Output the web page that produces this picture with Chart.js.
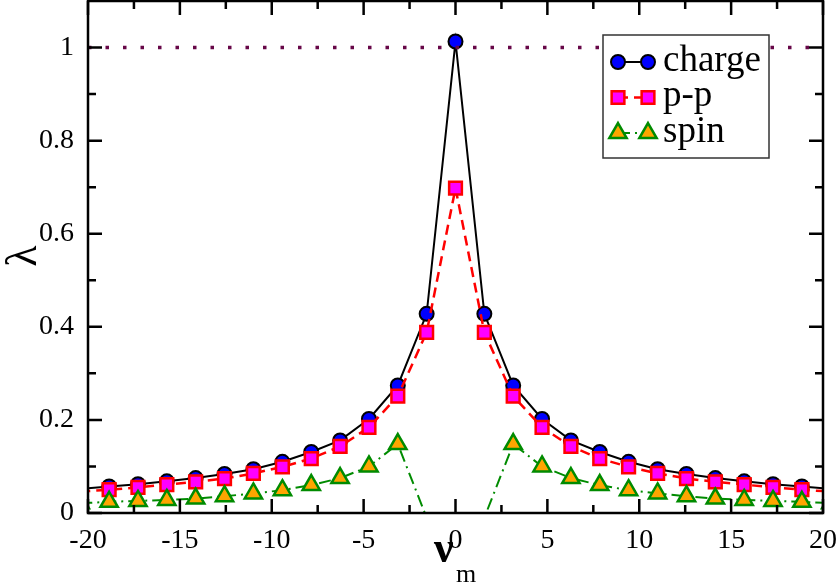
<!DOCTYPE html>
<html>
<head>
<meta charset="utf-8">
<script src="https://cdn.jsdelivr.net/npm/chart.js@4/dist/chart.umd.min.js"></script>
<style>
  html, body { margin: 0; padding: 0; background: #fff; }
</style>
</head>
<body>
<canvas id="myChart" width="839" height="588"></canvas>
<script>
// Matsubara frequencies nu_m (points every ~pi/2)
const nu = [-20.42, -18.85, -17.28, -15.71, -14.14, -12.57, -11.00, -9.42, -7.85, -6.28, -4.71, -3.14, -1.57,
            0,
            1.57, 3.14, 4.71, 6.28, 7.85, 9.42, 11.00, 12.57, 14.14, 15.71, 17.28, 18.85, 20.42];

// eigenvalues lambda for each channel
const charge = [0.052, 0.057, 0.062, 0.068, 0.075, 0.084, 0.094, 0.110, 0.131, 0.156, 0.202, 0.274, 0.428,
                1.013,
                0.428, 0.274, 0.202, 0.156, 0.131, 0.110, 0.094, 0.084, 0.075, 0.068, 0.062, 0.057, 0.052];
const pp = [0.046, 0.050, 0.055, 0.061, 0.067, 0.074, 0.085, 0.099, 0.117, 0.143, 0.184, 0.251, 0.388,
            0.698,
            0.388, 0.251, 0.184, 0.143, 0.117, 0.099, 0.085, 0.074, 0.067, 0.061, 0.055, 0.050, 0.046];
const spin = [0.021, 0.024, 0.026, 0.028, 0.031, 0.036, 0.042, 0.049, 0.060, 0.075, 0.100, 0.148, -0.010,
              -0.080,
              -0.010, 0.148, 0.100, 0.075, 0.060, 0.049, 0.042, 0.036, 0.031, 0.028, 0.026, 0.024, 0.021];

// the dotted reference line at lambda = 1
const refX = [-20, 20];
const refY = [1, 1];

const seriesNames = ['charge', 'p-p', 'spin'];
const xTicks = [-20, -15, -10, -5, 0, 5, 10, 15, 20];
const xMinor = [-17.5, -12.5, -7.5, -2.5, 2.5, 7.5, 12.5, 17.5];
const yTicks = [0, 0.2, 0.4, 0.6, 0.8, 1];
const yMinor = [0.1, 0.3, 0.5, 0.7, 0.9];

const serif = '"Liberation Serif", "Times New Roman", Times, serif';

function pairs(xs, ys) {
  return xs.map((x, i) => ({ x: x, y: ys[i] }));
}

// like xmgrace: symbols whose point lies below the axis are not drawn
function radiusFor(r) {
  return ctx => (ctx.raw && ctx.raw.y < 0) ? 0 : r;
}

// no extra room around the axes, the plot box fills the canvas
function noPadding(s) {
  s.paddingTop = 0; s.paddingBottom = 0; s.paddingLeft = 0; s.paddingRight = 0;
}

// frame with inward ticks on all four sides
const frame = {
  id: 'frame',
  afterDatasetsDraw(chart) {
    const { ctx, chartArea: a, scales } = chart;
    ctx.save();
    ctx.strokeStyle = '#000';
    ctx.lineWidth = 2.5;
    ctx.beginPath();
    const tick = (vals, len) => {
      vals.forEach(v => {
        const px = scales.x.getPixelForValue(v);
        ctx.moveTo(px, a.bottom); ctx.lineTo(px, a.bottom - len);
        ctx.moveTo(px, a.top); ctx.lineTo(px, a.top + len);
      });
    };
    const ytick = (vals, len) => {
      vals.forEach(v => {
        const py = scales.y.getPixelForValue(v);
        ctx.moveTo(a.left, py); ctx.lineTo(a.left + len, py);
        ctx.moveTo(a.right, py); ctx.lineTo(a.right - len, py);
      });
    };
    tick(xTicks, 14); tick(xMinor, 8);
    ytick(yTicks, 14); ytick(yMinor, 8);
    ctx.stroke();
    ctx.strokeRect(a.left, a.top, a.right - a.left, a.bottom - a.top);
    ctx.restore();
  }
};

// axis titles: lambda and nu with subscript m
const titles = {
  id: 'titles',
  afterDraw(chart) {
    const ctx = chart.ctx;
    ctx.save();
    ctx.fillStyle = '#000';
    ctx.translate(24, 256);
    ctx.rotate(-Math.PI / 2);
    ctx.textAlign = 'center';
    ctx.textBaseline = 'middle';
    ctx.font = '44px ' + serif;
    ctx.fillText('λ', 0, 0);
    ctx.restore();

    ctx.save();
    ctx.fillStyle = '#000';
    ctx.textAlign = 'left';
    ctx.textBaseline = 'alphabetic';
    ctx.font = 'bold 44px ' + serif;
    ctx.fillText('ν', 434, 562);
    ctx.font = '26px ' + serif;
    ctx.fillText('m', 456, 582);
    ctx.restore();
  }
};

// legend box inside the plot, symbol - line - symbol like xmgrace
const legendBox = {
  id: 'legendBox',
  afterDraw(chart) {
    const ctx = chart.ctx;
    ctx.save();
    ctx.fillStyle = '#fff';
    ctx.fillRect(603, 35, 166, 123);
    ctx.lineWidth = 1.5;
    ctx.strokeStyle = '#333';
    ctx.strokeRect(603, 35, 166, 123);
    seriesNames.forEach((name, i) => {
      const ds = chart.data.datasets[i];
      const y = 62 + i * 35.5;
      ctx.strokeStyle = ds.borderColor;
      ctx.lineWidth = ds.borderWidth;
      ctx.setLineDash(ds.borderDash || []);
      ctx.beginPath();
      ctx.moveTo(618, y);
      ctx.lineTo(648, y);
      ctx.stroke();
      ctx.setLineDash([]);
      [618, 648].forEach(x => {
        ctx.fillStyle = ds.pointBackgroundColor;
        ctx.strokeStyle = ds.pointBorderColor;
        ctx.lineWidth = ds.pointBorderWidth;
        Chart.helpers.drawPoint(ctx, {
          pointStyle: ds.pointStyle, radius: ds.legendRadius,
          borderWidth: ds.pointBorderWidth, rotation: 0
        }, x, y);
      });
      ctx.fillStyle = '#000';
      ctx.font = '37px ' + serif;
      ctx.textAlign = 'left';
      ctx.textBaseline = 'alphabetic';
      ctx.fillText(name, 663, y + 8.5);
    });
    ctx.restore();
  }
};

new Chart(document.getElementById('myChart'), {
  type: 'line',
  data: {
    datasets: [
      {
        label: seriesNames[0],
        data: pairs(nu, charge),
        borderColor: '#000000',
        borderWidth: 2,
        pointStyle: 'circle',
        pointRadius: radiusFor(7),
        legendRadius: 7,
        pointBackgroundColor: '#0000ff',
        pointBorderColor: '#000000',
        pointBorderWidth: 2,
        order: 3
      },
      {
        label: seriesNames[1],
        data: pairs(nu, pp),
        borderColor: '#ff0000',
        borderWidth: 2.5,
        borderDash: [10, 6],
        pointStyle: 'rect',
        pointRadius: radiusFor(9),
        legendRadius: 9,
        pointBackgroundColor: '#ff00ff',
        pointBorderColor: '#ff0000',
        pointBorderWidth: 2.5,
        order: 2
      },
      {
        label: seriesNames[2],
        data: pairs(nu, spin),
        borderColor: '#008b00',
        borderWidth: 2,
        borderDash: [12, 5, 2, 5],
        pointStyle: 'triangle',
        pointRadius: radiusFor(10),
        legendRadius: 10,
        pointBackgroundColor: '#ffa500',
        pointBorderColor: '#008b00',
        pointBorderWidth: 2.5,
        order: 1
      },
      {
        label: 'ref',
        data: pairs(refX, refY),
        borderColor: '#670748',
        borderWidth: 3.5,
        borderDash: [3.5, 14],
        borderCapStyle: 'butt',
        pointRadius: 0,
        order: 0
      }
    ]
  },
  options: {
    responsive: false,
    animation: false,
    layout: { autoPadding: false, padding: { top: 1, right: 16, left: 0, bottom: 0 } },
    plugins: {
      legend: { display: false },
      tooltip: { enabled: false }
    },
    elements: { line: { tension: 0, fill: false } },
    scales: {
      x: {
        type: 'linear',
        min: -20,
        max: 20,
        afterBuildTicks: s => { s.ticks = xTicks.map(v => ({ value: v })); },
        afterFit: s => { s.height = 75; noPadding(s); },
        grid: { display: false },
        border: { display: false },
        ticks: { font: { family: serif, size: 28 }, color: '#000', padding: 3, maxRotation: 0, autoSkip: false,
                 callback: v => String(v) }
      },
      y: {
        min: 0,
        max: 1.1,
        afterBuildTicks: s => { s.ticks = yTicks.map(v => ({ value: v })); },
        afterFit: s => { s.width = 88; noPadding(s); },
        grid: { display: false },
        border: { display: false },
        ticks: { font: { family: serif, size: 28 }, color: '#000', padding: 6, autoSkip: false,
                 callback: v => String(v) }
      }
    }
  },
  plugins: [frame, titles, legendBox]
});
</script>
</body>
</html>
